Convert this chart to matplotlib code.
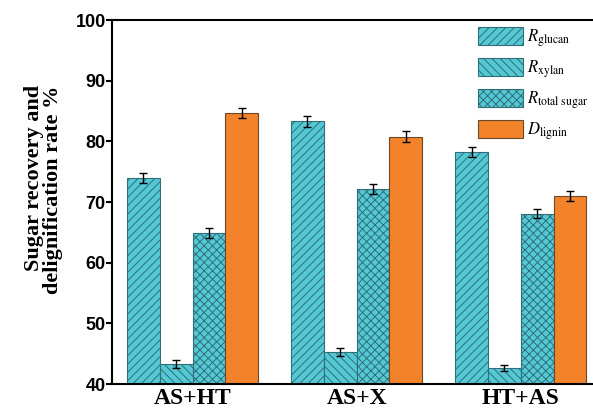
import matplotlib
matplotlib.use("Agg")
import matplotlib.pyplot as plt
import numpy as np

plt.rcParams["mathtext.fontset"] = "stix"
plt.rcParams["hatch.linewidth"] = 0.7

groups = ["AS+HT", "AS+X", "HT+AS"]
series = [r"$R_{\rm glucan}$", r"$R_{\rm xylan}$",
          r"$R_{\rm total\ sugar}$", r"$D_{\rm lignin}$"]
values = [
    [74.0, 83.3, 78.3],   # R glucan
    [43.3, 45.3, 42.6],   # R xylan
    [64.9, 72.2, 68.1],   # R total sugar
    [84.7, 80.8, 71.0],   # D lignin
]
errors = [
    [0.8, 0.9, 0.8],
    [0.6, 0.7, 0.5],
    [0.9, 0.8, 0.8],
    [0.8, 0.9, 0.8],
]
colors = ["#55c8d6", "#55c8d6", "#55c8d6", "#f2832a"]
hatches = ["////", "\\\\\\\\", "xxxx", ""]

fig = plt.figure(figsize=(5.93, 4.19), dpi=100)
ax = fig.add_axes([0.189, 0.0835, 0.811, 0.8685])

x = np.arange(len(groups))
width = 0.2
for i in range(4):
    pos = x + (i - 1.5) * width
    ax.bar(pos, [v - 40 for v in values[i]], width, bottom=40, color=colors[i],
           edgecolor="#2f6f75" if i < 3 else "#6a4a2a", linewidth=0.8,
           hatch=hatches[i], label=series[i], zorder=2)
    ax.errorbar(pos, values[i], yerr=errors[i], fmt="none", ecolor="black",
                elinewidth=1.0, capsize=3, capthick=1.0, zorder=3)

ax.set_ylim(40, 100)
ax.set_xlim(-0.49, 2.44)
ax.set_yticks([40, 50, 60, 70, 80, 90, 100])
ax.set_xticks(x)
ax.set_xticklabels(groups, fontfamily="Liberation Serif", fontweight="bold", fontsize=17)
for lab in ax.get_yticklabels():
    lab.set_fontfamily("Liberation Sans")
    lab.set_fontweight("bold")
    lab.set_fontsize(13)
ax.tick_params(axis="y", width=1.5, length=4.5, pad=0)
ax.tick_params(axis="x", length=0, pad=3)
ax.spines["right"].set_visible(False)
for s in ["left", "bottom", "top"]:
    ax.spines[s].set_linewidth(1.5)

ax.set_ylabel("Sugar recovery and\ndelignification rate %", fontfamily="Liberation Serif",
              fontweight="bold", fontsize=16, linespacing=0.95,
              multialignment="right")
ax.yaxis.set_label_coords(-0.102, 0.535)

leg = ax.legend(loc="upper left", bbox_to_anchor=(478 / 593, 1 - 27 / 419),
                bbox_transform=fig.transFigure, frameon=False, fontsize=12,
                handlelength=2.7, handleheight=1.25, labelspacing=0.55,
                handletextpad=0.25, borderpad=0, borderaxespad=0)

fig.savefig("out.png", dpi=100)
